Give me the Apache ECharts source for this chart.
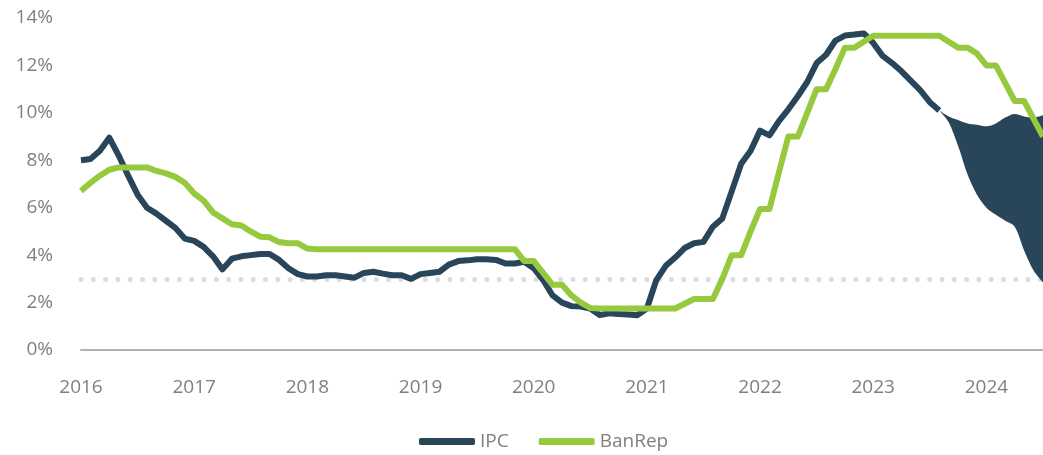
<!DOCTYPE html>
<html lang="es">
<head>
<meta charset="UTF-8" />
<title>IPC vs BanRep</title>
<script src="https://cdn.jsdelivr.net/npm/echarts@6/dist/echarts.min.js"></script>
<style>
  html, body { margin: 0; padding: 0; background: #fff; }
  #main { width: 1043px; height: 455px; }
</style>
</head>
<body>
<div id="main"></div>
<script type="text/javascript">
// inflacion anual (IPC) y tasa de politica (BanRep), mensual desde ene-2016
var firstYear = 2016;
var nMonths = 103; // ene-2016 .. jul-2024

var ipc = [
  8.0, 8.05, 8.4, 8.95, 8.2, 7.35, 6.55, 6.0, 5.75, 5.45, 5.15, 4.7,
  4.6, 4.35, 3.95, 3.4, 3.85, 3.95, 4.0, 4.05, 4.05, 3.8, 3.45, 3.2,
  3.1, 3.1, 3.15, 3.15, 3.1, 3.05, 3.25, 3.3, 3.22, 3.15, 3.15, 3.0,
  3.2, 3.25, 3.3, 3.6, 3.75, 3.78, 3.83, 3.83, 3.8, 3.65, 3.65, 3.72,
  3.45, 2.95, 2.3, 2.0, 1.85, 1.83, 1.75, 1.47, 1.55, 1.52, 1.5, 1.47,
  1.75, 2.95, 3.55, 3.9, 4.3, 4.5, 4.56, 5.2, 5.55, 6.7, 7.85, 8.4,
  9.25, 9.05, 9.65, 10.15, 10.7, 11.3, 12.1, 12.45, 13.05, 13.26, 13.3, 13.35,
  12.95, 12.4, 12.1, 11.75, 11.35, 10.95, 10.45, 10.1
];

var banrep = [
  6.7, 7.05, 7.35, 7.6, 7.7, 7.7, 7.7, 7.7, 7.55, 7.45, 7.3, 7.05,
  6.6, 6.3, 5.8, 5.55, 5.3, 5.25, 5.0, 4.78, 4.75, 4.55, 4.5, 4.5,
  4.28, 4.25, 4.25, 4.25, 4.25, 4.25, 4.25, 4.25, 4.25, 4.25, 4.25, 4.25,
  4.25, 4.25, 4.25, 4.25, 4.25, 4.25, 4.25, 4.25, 4.25, 4.25, 4.25, 3.75,
  3.75, 3.25, 2.75, 2.75, 2.3, 2.0, 1.77, 1.75, 1.75, 1.75, 1.75, 1.75,
  1.75, 1.75, 1.75, 1.75, 1.95, 2.15, 2.15, 2.15, 3.0, 4.0, 4.0, 5.0,
  5.95, 5.95, 7.5, 9.0, 9.0, 10.0, 11.0, 11.0, 11.85, 12.75, 12.75, 13.0,
  13.25, 13.25, 13.25, 13.25, 13.25, 13.25, 13.25, 13.25, 13.0, 12.75, 12.75, 12.5,
  12.0, 12.0, 11.25, 10.5, 10.5, 9.75, 9.0
];

// abanico de pronostico (desde el mes 91 = ago-2023)
var fanStart = 91;
var fanLow  = [10.1, 9.6, 8.6, 7.4, 6.55, 6.0, 5.7, 5.45, 5.2, 4.2, 3.35, 2.85];
var fanHigh = [10.1, 9.85, 9.7, 9.55, 9.5, 9.43, 9.55, 9.8, 9.95, 9.85, 9.8, 9.9];

var meta = 3; // meta de inflacion
var yTicks = [0, 14, 2];

var navy = '#28455a';
var green = '#96c93d';
var gray = '#7f7f7f';
var font = '"Open Sans", "Noto Sans", sans-serif';

var months = [];
for (var i = 0; i < nMonths; i++) {
  var y = firstYear + Math.floor(i / 12);
  var m = (i % 12) + 1;
  months.push(y + '-' + (m < 10 ? '0' + m : m));
}

var lowData = [], bandData = [];
for (var i = 0; i < nMonths; i++) {
  var k = i - fanStart;
  if (k >= 0 && k < fanLow.length) {
    lowData.push(fanLow[k]);
    bandData.push(+(fanHigh[k] - fanLow[k]).toFixed(3));
  } else {
    lowData.push(null);
    bandData.push(null);
  }
}

var myChart = echarts.init(document.getElementById('main'));
var option = {
  animation: false,
  textStyle: { fontFamily: font },
  grid: { left: 81, right: 0, top: 18, bottom: 105, containLabel: false },
  legend: {
    data: ['IPC', 'BanRep'],
    top: 427,
    left: 414,
    icon: 'roundRect',
    itemWidth: 56,
    itemHeight: 7,
    itemGap: 30,
    textStyle: { color: gray, fontSize: 19, fontFamily: font }
  },
  xAxis: {
    type: 'category',
    data: months,
    boundaryGap: false,
    axisLine: { show: true, lineStyle: { color: '#aeb2bc', width: 2 } },
    axisTick: { show: false },
    splitLine: { show: false },
    axisLabel: {
      color: gray,
      fontSize: 19,
      margin: 28,
      interval: function (index) { return index % 12 === 0; },
      formatter: function (v) { return v.slice(0, 4); }
    }
  },
  yAxis: {
    type: 'value',
    min: yTicks[0],
    max: yTicks[1],
    interval: yTicks[2],
    axisLine: { show: false },
    axisTick: { show: false },
    splitLine: { show: false },
    axisLabel: { color: gray, fontSize: 19, margin: 28, formatter: '{value}%' }
  },
  series: [
    {
      // solo para la linea punteada de la meta
      name: 'meta',
      type: 'line',
      data: [],
      silent: true,
      z: 0,
      markLine: {
        z: 0,
        silent: true,
        symbol: 'none',
        label: { show: false },
        lineStyle: { color: '#d9dce0', width: 5, type: [0, 12.3], cap: 'round' },
        data: [{ yAxis: meta }]
      }
    },
    {
      name: 'fanBase',
      type: 'line',
      stack: 'fan',
      data: lowData,
      smooth: 0.3,
      symbol: 'none',
      lineStyle: { width: 0, opacity: 0 },
      silent: true,
      z: 1
    },
    {
      name: 'fanBand',
      type: 'line',
      stack: 'fan',
      data: bandData,
      smooth: 0.3,
      symbol: 'none',
      lineStyle: { width: 0, opacity: 0 },
      areaStyle: { color: navy, opacity: 1 },
      silent: true,
      z: 2
    },
    {
      name: 'IPC',
      type: 'line',
      data: ipc,
      symbol: 'none',
      itemStyle: { color: navy },
      lineStyle: { color: navy, width: 6, join: 'round' },
      z: 3
    },
    {
      name: 'BanRep',
      type: 'line',
      data: banrep,
      symbol: 'none',
      itemStyle: { color: green },
      lineStyle: { color: green, width: 6, join: 'round' },
      z: 4
    }
  ]
};
myChart.setOption(option);
</script>
</body>
</html>
